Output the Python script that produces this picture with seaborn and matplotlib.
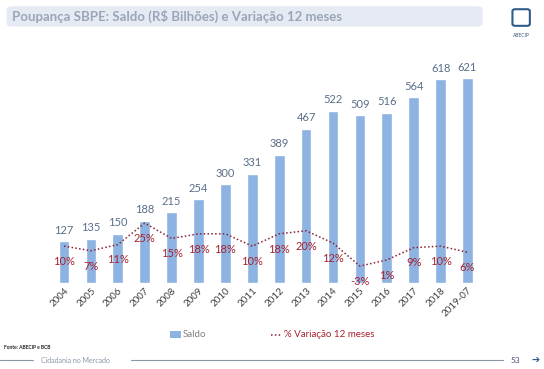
import matplotlib
matplotlib.use("Agg")
import matplotlib.pyplot as plt
import seaborn as sns
import numpy as np
import pandas as pd
from matplotlib.patches import FancyBboxPatch

anos = ["2004", "2005", "2006", "2007", "2008", "2009", "2010", "2011", "2012",
        "2013", "2014", "2015", "2016", "2017", "2018", "2019-07"]
saldo = [127, 135, 150, 188, 215, 254, 300, 331, 389, 467, 522, 509, 516, 564, 618, 621]
variacao = [10, 7, 11, 25, 15, 18, 18, 10, 18, 20, 12, -3, 1, 9, 10, 6]

sns.set_theme(style="white")
plt.rcParams['font.family'] = ['Lato', 'DejaVu Sans']

fig = plt.figure(figsize=(5.44, 3.69), dpi=100)
ax = fig.add_axes([0.088, 0.233, 0.801, 0.604])

df = pd.DataFrame({"ano": anos, "saldo": saldo, "var": variacao})
bar_color = "#8DB3E2"
sns.barplot(data=df, x="ano", y="saldo", ax=ax, color=bar_color, width=0.4,
            saturation=1)
ax.set_ylim(0, 676)
ax.set_xlim(-0.6, 15.6)
for c in ax.containers:
    ax.bar_label(c, labels=[str(v) for v in saldo], padding=4, fontsize=8,
                 color="#5A6E88")
ax.set_xlabel("")
ax.set_ylabel("")
ax.set_yticks([])
for s in ax.spines.values():
    s.set_visible(False)
ax.tick_params(axis="x", length=0, pad=2)
plt.setp(ax.get_xticklabels(), rotation=45, ha="right", rotation_mode="anchor",
         fontsize=7, color="#404040")

ax2 = ax.twinx()
pos = np.arange(len(anos))
line_color = "#8B2232"
sns.lineplot(x=pos, y=variacao, ax=ax2, color=line_color, lw=1.1,
             linestyle=(0, (1, 1.5)))
ax2.set_ylim(-14, 131)
ax2.set_yticks([])
for s in ax2.spines.values():
    s.set_visible(False)
for x, v in zip(pos, variacao):
    ax2.annotate(f"{v}%", (x, v), xytext=(0, -11), textcoords="offset points",
                 ha="center", va="center", fontsize=8, color="#A8222F")

# Title banner
banner = FancyBboxPatch((0.012, 0.928), 0.875, 0.055, boxstyle="round,pad=0,rounding_size=0.01",
                        transform=fig.transFigure, facecolor="#E6EAF3", edgecolor="none")
fig.patches.append(banner)
fig.text(0.022, 0.956, "Poupança SBPE: Saldo (R$ Bilhões) e Variação 12 meses",
         fontsize=9.5, fontweight="bold", color="#9AA6B8", va="center", ha="left")
fig.text(0.958, 0.905, "ABECIP", fontsize=3.5, color="#3A5A80", ha="center", va="center")
logo = FancyBboxPatch((0.942, 0.93), 0.032, 0.045, boxstyle="round,pad=0,rounding_size=0.005",
                      transform=fig.transFigure, facecolor="white", edgecolor="#2E5B8A", lw=1.5)
fig.patches.append(logo)

# Legend
fig.patches.append(plt.Rectangle((0.313, 0.084), 0.02, 0.018, transform=fig.transFigure,
                                 facecolor=bar_color, edgecolor="none"))
fig.text(0.335, 0.093, "Saldo", fontsize=7, color="#808080", va="center")
fig.lines.append(plt.Line2D([0.499, 0.518], [0.093, 0.093], transform=fig.transFigure,
                            color=line_color, lw=1.1, linestyle=(0, (1, 1.5))))
fig.text(0.522, 0.093, "% Variação 12 meses", fontsize=7, color="#A8222F", va="center")

# Footer
fig.text(0.008, 0.057, "Fonte: ABECIP e BCB", fontsize=3.5, color="#222222",
         fontweight="bold", va="center")
fig.lines.append(plt.Line2D([0.0, 0.06], [0.024, 0.024], transform=fig.transFigure,
                            color="#8A97A8", lw=0.8))
fig.text(0.075, 0.024, "Cidadania no Mercado", fontsize=5, color="#8A97A8", va="center")
fig.lines.append(plt.Line2D([0.24, 0.925], [0.024, 0.024], transform=fig.transFigure,
                            color="#8A97A8", lw=0.8))
fig.text(0.947, 0.024, "53", fontsize=6, color="#44546A", ha="center", va="center")
fig.text(0.985, 0.024, "➔", fontsize=7, color="#2E5B8A", ha="center", va="center",
         fontweight="bold")

fig.savefig("out.png", dpi=100)
